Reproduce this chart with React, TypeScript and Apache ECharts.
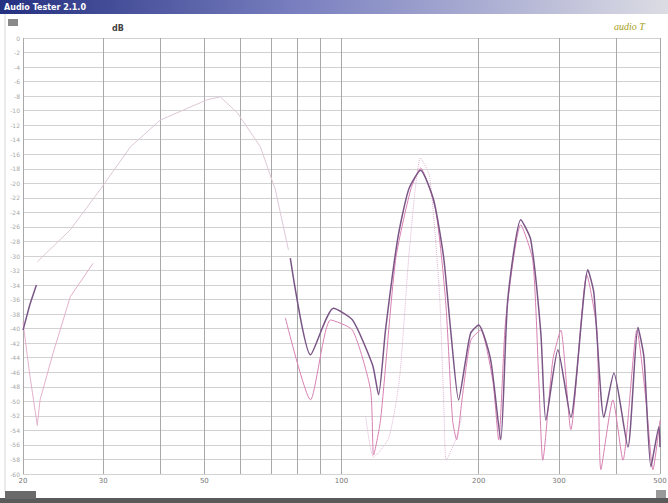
import React, { useEffect, useRef } from "react";
import * as echarts from "echarts";

// Frequency grid (Hz) and its labels
const freqGrid = [20, 30, 40, 50, 60, 70, 80, 90, 100, 200, 300, 400, 500];
const freqLabels = ["20", "30", "", "50", "", "", "", "", "100", "200", "300", "", "500"];

// Level axis (dB)
const dbMin = -60;
const dbMax = 0;
const dbStep = 2;

// Measured curve (dark)
const curveMain: [number, number][] = [
  [77.2, -30.3], [85.5, -43.6], [96.0, -37.2], [105.7, -38.8], [117.0, -45.0],
  [120.6, -49.1], [124.9, -40.2], [132.7, -27.8], [140.3, -20.9], [149.1, -18.2],
  [159.3, -22.3], [167.5, -30.1], [173.6, -40.2], [180.7, -49.8], [187.3, -44.3],
  [192.1, -40.6], [200, -39.5], [212.5, -44.3], [223.6, -55.3], [231.6, -36.1],
  [247.4, -25.0], [260.3, -27.8], [273.8, -40.6], [280.8, -52.6], [298.4, -42.9],
  [318.6, -52.2], [347.3, -31.9], [358.0, -35.1], [376.6, -52.2], [396.1, -46.1],
  [425.2, -56.3], [447.2, -39.8], [461.0, -43.9], [477.6, -59.0], [497.4, -53.5],
  [500, -56.3],
];

// Second measurement (pink)
const curvePink: [number, number][] = [
  [75.3, -38.5], [85.5, -49.8], [94.6, -38.8], [105.7, -40.2], [115.8, -48.4],
  [117.6, -57.4], [121.8, -52.6], [131.4, -30.6], [141.8, -20.9], [149.1, -17.9],
  [160.9, -23.7], [169.2, -36.1], [175.3, -52.6], [178.9, -55.3], [184.4, -49.1],
  [192.1, -41.6], [202.0, -40.2], [214.7, -47.1], [221.3, -55.3], [229.3, -38.8],
  [247.4, -25.7], [262.9, -30.6], [271.0, -47.1], [276.5, -58.1], [290.9, -44.3],
  [302.9, -40.2], [318.6, -53.9], [345.5, -32.6], [363.4, -40.2], [370.9, -59.4],
  [394.1, -49.8], [414.6, -58.1], [445.0, -40.2], [465.7, -49.8], [482.5, -59.4],
  [500, -52.6],
];

// Faint broad curve (low range)
const curveFaint: [number, number][] = [
  [21.5, -30.8], [25.4, -26.4], [29.5, -20.9], [34.4, -15.0], [40.0, -11.3],
  [50.7, -8.5], [54.2, -8.1], [59.1, -10.3], [66.4, -15.0], [71.6, -20.9], [76.5, -29.2],
];

// Light pink low segment
const curveLowPink: [number, number][] = [
  [20.0, -39.1], [20.7, -46.4], [21.5, -53.3], [21.8, -49.8], [23.3, -43.3],
  [25.4, -35.6], [28.5, -31.0],
];

// Dark low segment
const curveLowDark: [number, number][] = [
  [20.0, -40.2], [20.7, -36.7], [21.4, -34.0],
];

// Dotted envelope around the 150 Hz peak
const curveDotted: [number, number][] = [
  [113.0, -52.0], [117.6, -57.7], [127.0, -55.0], [134.0, -47.0], [141.0, -29.0],
  [149.1, -16.5], [156.0, -19.0], [164.0, -35.0], [168.0, -52.0], [169.8, -58.1],
  [178.0, -55.3], [184.0, -52.0],
];

export default function App() {
  const ref = useRef<HTMLDivElement>(null);

  useEffect(() => {
    if (!ref.current) return;
    const chart = echarts.init(ref.current, null, { renderer: "svg" });

    const gridLines = freqGrid.map((f, i) => ({
      xAxis: f,
      label: {
        show: freqLabels[i] !== "",
        formatter: freqLabels[i],
        position: "start",
        distance: 3,
        color: "#777",
        fontSize: 7,
        fontFamily: "DejaVu Sans",
      },
    }));

    const line = (name: string, data: [number, number][], color: string, width: number, type: any = "solid", z = 2, smooth: number | boolean = 0.2) => ({
      name,
      type: "line",
      data,
      showSymbol: false,
      symbol: "none",
      smooth,
      z,
      lineStyle: { color, width, type },
      silent: true,
    });

    const faint: any = line("faint", curveFaint, "#dcc8d6", 1, "solid", 1, false);
    faint.markLine = {
      silent: true,
      symbol: ["none", "none"],
      lineStyle: { color: "#a8a8a8", width: 1, type: "solid" },
      data: gridLines,
      z: 0,
    };

    chart.setOption({
      animation: false,
      backgroundColor: "#ffffff",
      grid: { left: 23, right: 8, top: 38, bottom: 29, containLabel: false },
      xAxis: {
        type: "log",
        logBase: 10,
        min: 20,
        max: 500,
        axisLabel: { show: false },
        axisTick: { show: false },
        axisLine: { show: false },
        splitLine: { show: false },
        minorSplitLine: { show: false },
      },
      yAxis: {
        type: "value",
        min: dbMin,
        max: dbMax,
        interval: dbStep,
        axisLabel: {
          show: true,
          color: "#a8a8a8",
          fontSize: 6,
          margin: 3,
          fontFamily: "DejaVu Sans",
        },
        axisTick: { show: false },
        axisLine: { show: false },
        splitLine: { show: true, lineStyle: { color: "#d2d2d2", width: 1 } },
      },
      graphic: [
        {
          type: "rect",
          shape: { x: 0, y: 0, width: 668, height: 14 },
          style: {
            fill: {
              type: "linear",
              x: 0, y: 0, x2: 1, y2: 0,
              colorStops: [
                { offset: 0, color: "#243080" },
                { offset: 0.45, color: "#7a80c0" },
                { offset: 1, color: "#dcdce4" },
              ],
            },
          },
          silent: true,
        },
        {
          type: "text",
          x: 4, y: 3,
          style: { text: "Audio Tester 2.1.0", fill: "#ffffff", fontSize: 8, fontWeight: "bold", fontFamily: "DejaVu Sans" },
          silent: true,
        },
        {
          type: "rect",
          shape: { x: 8, y: 19, width: 10, height: 7 },
          style: { fill: "#8a8a8a" },
          silent: true,
        },
        {
          type: "line",
          shape: { x1: 5, y1: 14, x2: 5, y2: 492 },
          style: { stroke: "#d8d8d8", lineWidth: 1 },
          silent: true,
        },
        {
          type: "text",
          x: 112, y: 24,
          style: { text: "dB", fill: "#444", fontSize: 8, fontWeight: "bold", fontFamily: "DejaVu Sans" },
          silent: true,
        },
        {
          type: "text",
          x: 614, y: 21,
          style: { text: "audio T", fill: "#a8a020", fontSize: 10, fontStyle: "italic", fontFamily: "Liberation Serif" },
          silent: true,
        },
        {
          type: "rect",
          shape: { x: 0, y: 498, width: 668, height: 5 },
          style: { fill: "#5a5a5a" },
          silent: true,
        },
        {
          type: "rect",
          shape: { x: 5, y: 491, width: 31, height: 8 },
          style: { fill: "#6a6a6a" },
          silent: true,
        },
        {
          type: "rect",
          shape: { x: 656, y: 490, width: 10, height: 8 },
          style: { fill: "#9a9a9a" },
          silent: true,
        },
      ],
      series: [
        faint,
        line("lowPink", curveLowPink, "#e3b2cb", 1, "solid", 2, false),
        line("dotted", curveDotted, "#dcb6d0", 1, "dotted", 2, 0.2),
        line("pink", curvePink, "#d780b2", 1, "solid", 3, 0.2),
        line("main", curveMain, "#7a5686", 1.5, "solid", 4, 0.2),
        line("lowDark", curveLowDark, "#7a5686", 1.5, "solid", 4, false),
      ],
    });

    return () => chart.dispose();
  }, []);

  return (
    <div
      ref={ref}
      style={{ position: "fixed", left: 0, top: 0, width: 668, height: 503, background: "#fff" }}
    />
  );
}
